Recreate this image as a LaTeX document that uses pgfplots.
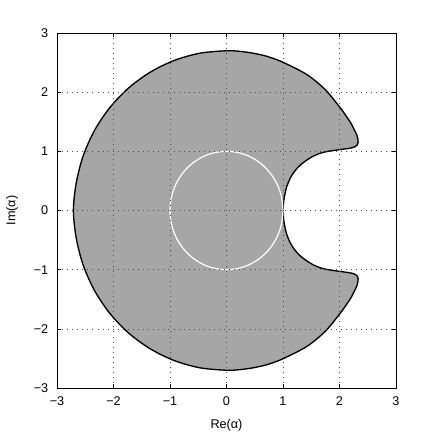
\documentclass[border=0pt]{standalone}
\usepackage{pgfplots}
\pgfplotsset{compat=1.18}
\usepackage{fontspec}
\setmainfont{Liberation Sans}
\definecolor{fillgray}{gray}{0.65}
\begin{document}
\begin{tikzpicture}
\begin{axis}[
  scale only axis,
  width=254.25pt, height=266.25pt,
  xmin=-3, xmax=3, ymin=-3, ymax=3,
  xtick={-3,-2,-1,0,1,2,3},
  ytick={-3,-2,-1,0,1,2,3},
  xticklabels={−3,−2,−1,0,1,2,3},
  yticklabels={−3,−2,−1,0,1,2,3},
  tick align=inside,
  major tick length=3pt,
  tick style={black, line width=0.4pt},
  axis line style={black, line width=0.5pt},
  grid=major,
  major grid style={black!70, line width=0.5pt, dash pattern=on 0.6pt off 3.2pt},
  axis on top,
  ticklabel style={font=\fontsize{9.5}{11}\selectfont},
  xticklabel style={yshift=-3pt},
  yticklabel style={xshift=-3pt},
  /pgf/number format/assume math mode=true,
  xlabel={Re(α)}, ylabel={Im(α)},
  label style={font=\fontsize{9.5}{11}\selectfont},
  xlabel style={yshift=-3pt},
  ylabel style={yshift=5pt},
]
\addplot[draw=black, line width=1pt, fill=fillgray, smooth, tension=0.5] coordinates {
(1.000,0.000) (1.010,0.140) (1.030,0.260) (1.065,0.400) (1.120,0.530) (1.180,0.630)
(1.270,0.735) (1.360,0.810) (1.450,0.870) (1.540,0.920) (1.650,0.965) (1.770,0.995)
(1.900,1.015) (2.010,1.030) (2.130,1.045) (2.220,1.060) (2.280,1.080) (2.315,1.110)
(2.330,1.150) (2.325,1.210) (2.300,1.290) (2.260,1.370) (2.200,1.480) (2.130,1.580)
(2.050,1.690) (1.960,1.800) (1.870,1.910) (1.750,2.040) (1.600,2.170) (1.450,2.280)
(1.300,2.365) (1.100,2.460) (0.923,2.537) (0.700,2.610) (0.469,2.659) (0.235,2.690)
(0.000,2.700) (-0.469,2.659) (-0.923,2.537) (-1.350,2.338) (-1.736,2.068) (-2.068,1.736)
(-2.338,1.350) (-2.537,0.923) (-2.659,0.469) (-2.710,0.000)
(-2.659,-0.469) (-2.537,-0.923) (-2.338,-1.350) (-2.068,-1.736) (-1.736,-2.068) (-1.350,-2.338)
(-0.923,-2.537) (-0.469,-2.659) (0.000,-2.700) (0.235,-2.690) (0.469,-2.659) (0.700,-2.610)
(0.923,-2.537) (1.100,-2.460) (1.300,-2.365) (1.450,-2.280) (1.600,-2.170) (1.750,-2.040)
(1.870,-1.910) (1.960,-1.800) (2.050,-1.690) (2.130,-1.580) (2.200,-1.480) (2.260,-1.370)
(2.300,-1.290) (2.325,-1.210) (2.330,-1.150) (2.315,-1.110) (2.280,-1.080) (2.220,-1.060)
(2.130,-1.045) (2.010,-1.030) (1.900,-1.015) (1.770,-0.995) (1.650,-0.965) (1.540,-0.920)
(1.450,-0.870) (1.360,-0.810) (1.270,-0.735) (1.180,-0.630) (1.120,-0.530) (1.065,-0.400)
(1.030,-0.260) (1.010,-0.140) (1.000,0.000)
};
\addplot[draw=white, line width=0.9pt, smooth, tension=0.6] coordinates {
(1,0) (0.966,0.259) (0.866,0.5) (0.707,0.707) (0.5,0.866) (0.259,0.966) (0,1)
(-0.259,0.966) (-0.5,0.866) (-0.707,0.707) (-0.866,0.5) (-0.966,0.259) (-1,0)
(-0.966,-0.259) (-0.866,-0.5) (-0.707,-0.707) (-0.5,-0.866) (-0.259,-0.966) (0,-1)
(0.259,-0.966) (0.5,-0.866) (0.707,-0.707) (0.866,-0.5) (0.966,-0.259) (1,0)
};
\end{axis}
\path[use as bounding box] ([xshift=-42.75pt, yshift=-37.5pt]current axis.south west) rectangle ([xshift=30pt, yshift=24.75pt]current axis.north east);
\end{tikzpicture}
\end{document}
